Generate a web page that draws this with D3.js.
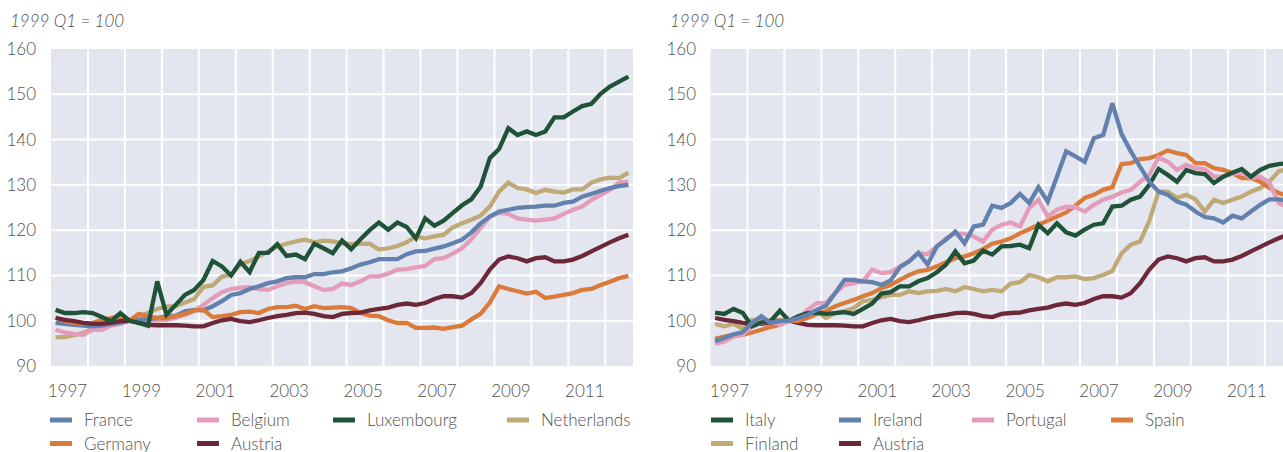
<!DOCTYPE html>
<html>
<head>
<meta charset="utf-8">
<script src="https://cdn.jsdelivr.net/npm/d3@7/dist/d3.min.js"></script>
<style>
  body { margin: 0; background: #fff; }
  svg { display: block; font-family: Lato, "Open Sans", sans-serif; }
</style>
</head>
<body>
<svg id="chart" width="1283" height="452"></svg>
<script>
// quarterly index, 1997 Q1 .. 2012 Q3 (63 quarters), 1999 Q1 = 100
var firstYear = 1997;
var nQuarters = 63;
var yearLabels = [1997, 1999, 2001, 2003, 2005, 2007, 2009, 2011];
var yearLines = [1998, 1999, 2000, 2001, 2002, 2003, 2004, 2005, 2006, 2007, 2008, 2009, 2010, 2011, 2012];
var yTicks = [90, 100, 110, 120, 130, 140, 150, 160];

var france = [99.5, 99.3, 99.1, 98.9, 98.75, 98.9, 99.3, 99.6, 100, 100.2, 100.4, 100.6, 101, 101.1, 102.1, 102.4, 102.3, 103.2, 104.3, 105.7, 106.1, 107, 107.6,
  108.3, 108.7, 109.4, 109.6, 109.6, 110.3, 110.3, 110.7, 110.9, 111.6, 112.4, 112.9, 113.6, 113.6, 113.6, 114.7, 115.3, 115.4, 115.9, 116.4, 117.1, 117.9,
  119.5, 121.5, 123, 124.1, 124.5, 124.9, 125.1, 125.2, 125.4, 125.4, 126, 126.3, 127.4, 128, 128.7, 129.3, 129.7, 130];
var belgium = [98, 97.4, 97.1, 96.9, 98, 98, 98.9, 99.3, 100, 99.9, 99.9, 100.1, 100.2, 100.6, 101.3, 102.1, 103.5, 105, 106.3, 107, 107.3, 107.4, 107,
  106.8, 107.6, 108.3, 108.7, 108.5, 107.6, 106.8, 107, 108.2, 107.9, 108.7, 109.8, 109.8, 110.4, 111.3, 111.4, 111.8, 112.1, 113.6, 113.8, 114.8, 116,
  118, 120.5, 123, 123.8, 123.6, 122.6, 122.3, 122.1, 122.3, 122.6, 123.6, 124.5, 125.2, 126.7, 127.8, 128.9, 130.5, 130.7];
var luxembourg = [102.4, 101.7, 101.7, 101.9, 101.7, 100.8, 99.9, 101.7, 100, 99.5, 98.9, 108.7, 101.3, 103.5, 105.7, 106.8, 109, 113.2, 112, 110, 113, 110.7, 115,
  115, 116.9, 114.3, 114.6, 113.6, 117, 116, 114.9, 117.7, 115.8, 118, 120, 121.7, 120.1, 121.7, 120.7, 118.2, 122.6, 121, 122.1, 123.8, 125.5,
  126.8, 129.6, 135.9, 137.9, 142.5, 141, 141.8, 141, 141.8, 144.9, 144.9, 146.2, 147.4, 147.9, 150.1, 151.7, 152.8, 153.9];
var netherlands = [96.3, 96.4, 96.8, 97.3, 98.3, 99.2, 99.8, 100.3, 100, 101, 101.7, 102.6, 103.1, 103.2, 104, 104.8, 107.5, 107.8, 109.7, 110.2, 112.5, 113.2, 114.2,
  115.3, 116.4, 117, 117.5, 117.9, 117.3, 117.7, 117.5, 117.1, 116.9, 117, 117, 115.7, 116, 116.5, 117.3, 118.6, 118.2, 118.6, 119, 120.6, 121.5,
  122.3, 123.2, 125.2, 128.5, 130.5, 129.3, 129, 128.2, 128.9, 128.5, 128.3, 129, 129, 130.5, 131.2, 131.6, 131.5, 132.7];
var germany = [100.7, 99.9, 99.5, 99.3, 99.5, 100.2, 100.6, 101, 100, 101.5, 101, 100.6, 100.6, 101, 101.5, 102.3, 102.4, 100.8, 101, 101.3, 101.9, 102, 101.7,
  102.6, 103, 103, 103.3, 102.6, 103.2, 102.8, 102.9, 103, 102.8, 101.7, 101.1, 101, 100.1, 99.5, 99.5, 98.4, 98.4, 98.5, 98.2, 98.6, 98.9,
  100.3, 101.5, 104, 107.6, 107, 106.5, 106, 106.4, 105, 105.3, 105.7, 106.1, 106.8, 107, 107.9, 108.6, 109.4, 109.9];
var austria = [100.6, 100.2, 99.9, 99.5, 99.3, 99.3, 99.6, 99.9, 100, 99.5, 99.1, 99, 99, 99, 98.9, 98.75, 98.75, 99.5, 100.1, 100.4, 99.9, 99.7, 100.1,
  100.6, 101, 101.3, 101.7, 101.8, 101.5, 101, 100.8, 101.5, 101.7, 101.8, 102.3, 102.6, 102.9, 103.5, 103.8, 103.5, 103.9, 104.8, 105.4, 105.4, 105.1,
  106.1, 108.3, 111.3, 113.5, 114.2, 113.8, 113.1, 113.8, 114, 113.1, 113.1, 113.5, 114.3, 115.3, 116.3, 117.3, 118.2, 119];

var italy = [101.8, 101.5, 102.6, 101.7, 98.75, 99.6, 99.9, 102.2, 100, 101, 101.7, 101.8, 101.5, 101.7, 101.9, 101.5, 102.6, 103.8, 106, 106.3, 107.6, 107.6, 108.7,
  109.4, 110.7, 112.4, 115.3, 112.7, 113.3, 115.5, 114.6, 116.4, 116.5, 116.8, 116, 121.2, 119.3, 121.5, 119.5, 118.8, 120.1, 121.2, 121.5,
  125.2, 125.4, 126.7, 127.4, 130, 133.5, 132.2, 130.7, 133.3, 132.6, 132.4, 130.4, 131.8, 132.7, 133.5, 131.8, 133.3, 134.2, 134.6, 134.8];
var ireland = [95.5, 96.2, 97, 97.5, 99.5, 101, 99.5, 99.9, 100, 100.6, 101.3, 102.4, 103.3, 106.1, 109, 109, 108.7, 108.5, 107.9, 108.9, 111.8, 113.1, 115,
  112.4, 116.4, 117.9, 119.7, 117.1, 120.8, 121.2, 125.4, 124.9, 126, 128, 126, 129.5, 126.3, 131.8, 137.4, 136.3, 135.1, 140.3, 141, 148, 141.2,
  137.4, 134, 130.7, 128.5, 127.8, 126.3, 125.6, 124.1, 122.9, 122.6, 121.7, 123.2, 122.6, 124.1, 125.6, 126.8, 126.8, 126.5];
var portugal = [94.9, 95.4, 96.5, 96.9, 98.75, 99.5, 99.9, 99.1, 100, 100.6, 102.4, 103.9, 103.9, 106.1, 107.9, 108.3, 108.7, 111.3, 110.5, 110.7, 112, 113.1, 114.9,
  114.7, 116.4, 118.2, 119.3, 119.2, 118.6, 117.5, 120.1, 121.2, 121.7, 120.8, 124.9, 126.7, 123, 124.5, 125.2, 125.1, 124.1, 125.6, 126.7, 127.4,
  128.3, 128.9, 130.7, 132.2, 136.1, 135.1, 133.3, 134.4, 133.7, 133.5, 131.8, 131.8, 132.4, 132.7, 131.5, 131.8, 130.5, 126, 125];
var spain = [96, 96.5, 96.9, 96.9, 97.4, 98, 98.6, 99.1, 100, 99.9, 100.6, 101.5, 102.1, 103.2, 103.9, 104.6, 105.4, 106.1, 107.2, 107.9, 109, 110.1, 110.9,
  111.2, 112, 112.9, 113.8, 114.2, 114.9, 115.8, 117, 117.5, 118.2, 119.3, 120.2, 121.2, 122.1, 123, 123.9, 125.4, 127.1, 127.8, 128.9, 129.5,
  134.6, 134.8, 135.7, 135.9, 136.6, 137.6, 137, 136.6, 134.8, 134.8, 133.7, 133.3, 132.6, 131.5, 131.5, 130.7, 129.3, 128.2, 127.5];
var finland = [99.3, 98.75, 99.3, 98.2, 100.2, 100.2, 100.1, 100.2, 100, 100.2, 101.3, 102.1, 100.6, 101.7, 102.1, 102.8, 104.3, 104.6, 105.2, 105.7, 105.7, 106.5, 106.1,
  106.5, 106.6, 107, 106.5, 107.4, 107, 106.5, 106.8, 106.5, 108.2, 108.5, 110.1, 109.6, 108.7, 109.6, 109.6, 109.8, 109.2, 109.4, 110.1, 111,
  114.9, 116.8, 117.5, 122, 128.5, 128.5, 127.1, 127.8, 126.8, 124.1, 126.7, 126, 126.7, 127.4, 128.5, 129.3, 130.7, 133, 133.5];

var colours = {
  blue: "#6381ae", pink: "#e39cb9", green: "#1f5338",
  tan: "#bea977", orange: "#da7b3b", maroon: "#6c2838"
};

var panels = [
  {
    left: 51, yLabelX: 36, titleX: 10, labelShift: -2.5,
    legendCols: [50, 197, 333, 507],
    series: [
      {name: "France", values: france, colour: colours.blue},
      {name: "Belgium", values: belgium, colour: colours.pink},
      {name: "Luxembourg", values: luxembourg, colour: colours.green},
      {name: "Netherlands", values: netherlands, colour: colours.tan},
      {name: "Germany", values: germany, colour: colours.orange},
      {name: "Austria", values: austria, colour: colours.maroon}
    ],
    drawOrder: [3, 1, 0, 4, 5, 2]
  },
  {
    left: 710.5, yLabelX: 696, titleX: 670, labelShift: 0,
    legendCols: [711, 839, 972, 1111],
    series: [
      {name: "Italy", values: italy, colour: colours.green},
      {name: "Ireland", values: ireland, colour: colours.blue},
      {name: "Portugal", values: portugal, colour: colours.pink},
      {name: "Spain", values: spain, colour: colours.orange},
      {name: "Finland", values: finland, colour: colours.tan},
      {name: "Austria", values: austria, colour: colours.maroon}
    ],
    drawOrder: [4, 5, 3, 2, 0, 1]
  }
];

var plotTop = 49, plotBottom = 366, plotWidth = 582;
var textColour = "#505050";
var svg = d3.select("#chart");

panels.forEach(function(p) {
  var x = d3.scaleLinear()
    .domain([firstYear, firstYear + nQuarters / 4])
    .range([p.left, p.left + plotWidth]);
  var y = d3.scaleLinear().domain([90, 160]).range([plotBottom, plotTop]);
  var g = svg.append("g");

  g.append("rect")
    .attr("x", p.left).attr("y", plotTop)
    .attr("width", plotWidth).attr("height", plotBottom - plotTop)
    .attr("fill", "#e3e6ee");

  g.selectAll(".hgrid")
    .data(yTicks.slice(1, -1))
    .enter().append("line")
    .attr("x1", p.left).attr("x2", p.left + plotWidth)
    .attr("y1", d => y(d)).attr("y2", d => y(d))
    .attr("stroke", "#fff").attr("stroke-width", 2);

  g.selectAll(".vgrid")
    .data(yearLines)
    .enter().append("line")
    .attr("x1", d => x(d)).attr("x2", d => x(d))
    .attr("y1", plotTop).attr("y2", plotBottom)
    .attr("stroke", "#fff").attr("stroke-width", 2);

  var line = d3.line()
    .x((d, i) => x(firstYear + (i + 0.5) / 4))
    .y(d => y(d));

  p.drawOrder.forEach(function(k) {
    var s = p.series[k];
    g.append("path")
      .datum(s.values)
      .attr("d", line)
      .attr("fill", "none")
      .attr("stroke", s.colour)
      .attr("stroke-width", 4.3)
      .attr("stroke-linejoin", "miter")
      .attr("stroke-miterlimit", 3);
  });

  // y axis labels
  var yAxis = d3.axisLeft(y).tickValues(yTicks).tickSize(0).tickPadding(0);
  var ya = g.append("g")
    .attr("transform", `translate(${p.yLabelX},0)`)
    .call(yAxis);
  ya.select(".domain").remove();
  ya.selectAll("text")
    .attr("fill", textColour)
    .style("font-size", "17px")
    .style("font-weight", 300)
    .style("font-family", "Lato, 'Open Sans', sans-serif");

  // x axis labels, centred in the middle of each odd year
  var xAxis = d3.axisBottom(x)
    .tickValues(yearLabels.map(d => d + 0.5))
    .tickFormat(d => Math.floor(d))
    .tickSize(0).tickPadding(19);
  var xa = g.append("g")
    .attr("transform", `translate(${p.labelShift},${plotBottom})`)
    .call(xAxis);
  xa.select(".domain").remove();
  xa.selectAll("text")
    .attr("fill", textColour)
    .style("font-size", "17px")
    .style("font-weight", 300)
    .style("font-family", "Lato, 'Open Sans', sans-serif");

  g.append("text")
    .attr("x", p.titleX).attr("y", 27)
    .attr("fill", textColour)
    .style("font-size", "17px")
    .style("font-weight", 300)
    .style("font-style", "italic")
    .text("1999 Q1 = 100");

  // legend: four per row
  var leg = g.selectAll(".leg")
    .data(p.series)
    .enter().append("g")
    .attr("transform", (d, i) => `translate(${p.legendCols[i % 4]},${i < 4 ? 420 : 443.5})`);
  leg.append("rect")
    .attr("x", 0).attr("y", -2.5)
    .attr("width", 22).attr("height", 5)
    .attr("fill", d => d.colour);
  leg.append("text")
    .attr("x", 34).attr("y", 6)
    .attr("fill", textColour)
    .style("font-size", "17px")
    .style("font-weight", 300)
    .text(d => d.name);
});
</script>
</body>
</html>
